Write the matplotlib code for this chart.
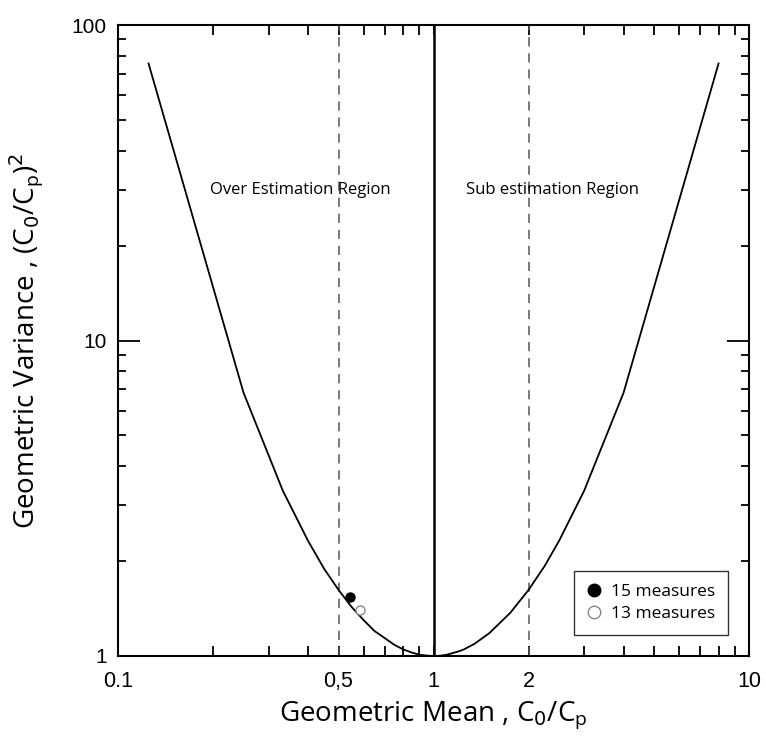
import matplotlib
matplotlib.use("Agg")
import matplotlib.pyplot as plt
from matplotlib.ticker import FixedLocator, NullFormatter, LogLocator
from matplotlib.lines import Line2D

# Curve (geometric mean vs geometric variance)
curve_mg = [0.125, 0.25, 0.333, 0.4, 0.45, 0.5, 0.55, 0.6, 0.65, 0.7, 0.75,
            0.8, 0.85, 0.9, 0.95, 1.0, 1.05, 1.1, 1.2, 1.25, 1.35, 1.5, 1.75,
            2.0, 2.25, 2.5, 3.0, 4.0, 8.0]
curve_vg = [75.5, 6.83, 3.34, 2.32, 1.89, 1.62, 1.43, 1.30, 1.20, 1.14, 1.086,
            1.05, 1.027, 1.01, 1.003, 1.0, 1.002, 1.009, 1.034, 1.05, 1.094, 1.18, 1.37,
            1.62, 1.93, 2.32, 3.34, 6.83, 75.5]

# Measurement points
pt15_mg, pt15_vg = [0.544], [1.54]
pt13_mg, pt13_vg = [0.585], [1.40]

dashed_x = [0.5, 2.0]
solid_x = [1.0]

xtick_vals = [0.1, 0.5, 1, 2, 10]
xtick_labels = ["0.1", "0,5", "1", "2", "10"]
ytick_vals = [1, 10, 100]
ytick_labels = ["1", "10", "100"]

fig = plt.figure(figsize=(7.66, 7.36), dpi=100)
ax = fig.add_axes([0.154, 0.1087, 0.824, 0.8573])
ax.set_xscale("log")
ax.set_yscale("log")
ax.set_xlim(0.1, 10)
ax.set_ylim(1, 100)

ax.plot(curve_mg, curve_vg, color="black", lw=1.3, zorder=3)
for xv in dashed_x:
    ax.axvline(xv, color="#555555", lw=1.1, ls=(0, (6, 4.5)), zorder=2)
for xv in solid_x:
    ax.axvline(xv, color="black", lw=1.8, zorder=2)

ax.plot(pt15_mg, pt15_vg, "o", ms=6.5, mfc="black", mec="black", zorder=4)
ax.plot(pt13_mg, pt13_vg, "o", ms=6.5, mfc="white", mec="#888888", mew=1.0, zorder=4)

lab_font = "Open Sans"
tick_font = "Liberation Sans"

ax.text(0.378, 30, "Over Estimation Region", ha="center", va="center",
        fontsize=12, family=lab_font)
ax.text(2.39, 30, "Sub estimation Region", ha="center", va="center",
        fontsize=12, family=lab_font)

# ticks
ax.xaxis.set_major_locator(FixedLocator(xtick_vals))
ax.set_xticklabels(xtick_labels, family=tick_font, fontsize=15.5)
ax.xaxis.set_minor_locator(LogLocator(base=10, subs=range(2, 10)))
ax.xaxis.set_minor_formatter(NullFormatter())
ax.yaxis.set_major_locator(FixedLocator(ytick_vals))
ax.set_yticklabels(ytick_labels, family=tick_font, fontsize=15)
ax.yaxis.set_minor_locator(LogLocator(base=10, subs=range(2, 10)))
ax.yaxis.set_minor_formatter(NullFormatter())

ax.tick_params(axis="both", which="both", direction="in", top=True, right=True,
               color="black", width=1.3)
ax.tick_params(axis="x", which="major", length=7, pad=11)
ax.tick_params(axis="x", which="minor", length=7)
ax.tick_params(axis="y", which="major", length=16, pad=8)
ax.tick_params(axis="y", which="minor", length=6)
for s in ax.spines.values():
    s.set_linewidth(1.5)

ax.set_xlabel(r"Geometric Mean , C$_0$/C$_\mathregular{p}$", family=lab_font,
              fontsize=20)
ax.xaxis.set_label_coords(0.5, -0.068)
ax.set_ylabel(r"Geometric Variance , (C$_0$/C$_\mathregular{p}$)$^2$", family=lab_font,
              fontsize=20)
ax.yaxis.set_label_coords(-0.115, 0.5)

handles = [
    Line2D([], [], ls="none", marker="o", ms=9, mfc="black", mec="black"),
    Line2D([], [], ls="none", marker="o", ms=9, mfc="white", mec="#888888"),
]
leg = ax.legend(handles, ["15 measures", "13 measures"], loc="lower right",
                bbox_to_anchor=(0.967, 0.033), frameon=True, fancybox=False,
                edgecolor="#333333", framealpha=1, handletextpad=0.6,
                handlelength=0.8, borderpad=0.75, borderaxespad=0,
                labelspacing=0.35,
                prop={"family": lab_font, "size": 12.5})
leg.get_frame().set_linewidth(1.0)

fig.savefig("out.png", dpi=100)
